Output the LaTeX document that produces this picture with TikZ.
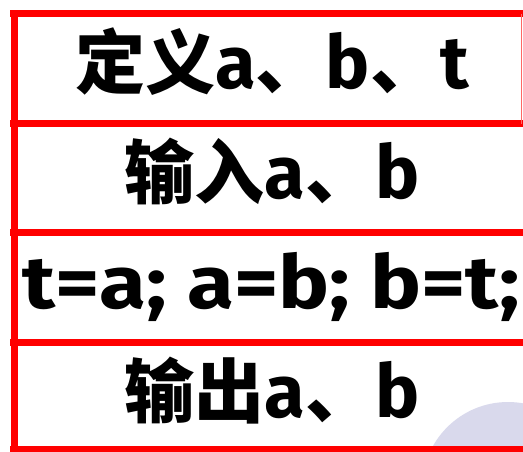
\documentclass[tikz,border=0pt]{standalone}
\usepackage{fontspec}
\usepackage{graphicx}
\setmainfont{Fira Sans}
\newfontfamily\cjk{Noto Sans CJK SC}
\definecolor{boxred}{RGB}{255,0,0}
\definecolor{lav}{RGB}{217,217,236}
\newcommand{\zh}[1]{{\cjk\bfseries\fontsize{70}{80}\selectfont #1}}
\newcommand{\la}[1]{{\bfseries\fontsize{74}{80}\selectfont #1}}
\begin{document}
\begin{tikzpicture}[x=1pt,y=-1pt,
  redline/.style={draw=boxred,line width=7pt},
  txt/.style={inner sep=0pt,anchor=base}]
\useasboundingbox (0,0) rectangle (523,451);
\begin{scope}
\clip (0,0) rectangle (523,451);
\fill[lav] (508,488) circle[radius=86];
\draw[redline] (10,13.5) -- (530,13.5);
\draw[redline] (10,123.5) -- (530,123.5);
\draw[redline] (10,232.5) -- (530,232.5);
\draw[redline] (10,342.5) -- (530,342.5);
\draw[redline] (10,449) -- (530,449);
\draw[redline] (14.5,10) -- (14.5,460);
\draw[draw=boxred!60,line width=1.5pt] (521.5,13.5) -- (521.5,123.5);
\end{scope}
\node[txt] (t1) at (272,88) {\zh{定义}\la{a}\zh{、}\la{b}\zh{、}\la{t}};
\node[txt] (t2) at (272,198) {\zh{输入}\la{a}\zh{、}\la{b}};
\node[txt] (t3) at (271,308) {\scalebox{1.155}[1]{\la{t=a; a=b; b=t;}}};
\node[txt] (t4) at (272,417) {\zh{输出}\la{a}\zh{、}\la{b}};
\end{tikzpicture}
\end{document}
